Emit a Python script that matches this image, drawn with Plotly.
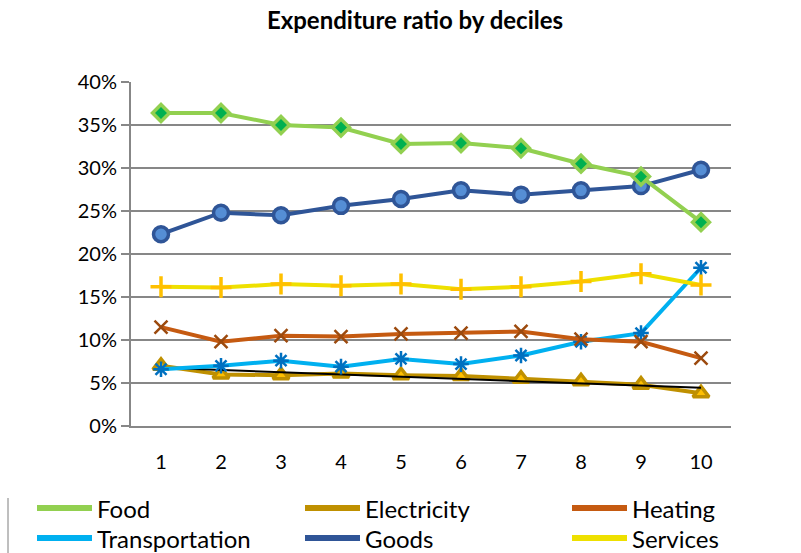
import numpy as np
import plotly.graph_objects as go

# Expenditure shares (%) by income decile
deciles = [1, 2, 3, 4, 5, 6, 7, 8, 9, 10]
tick_labels = ["1", "2", "3", "4", "5", "6", "7", "8", "9", "10"]

food = [36.4, 36.4, 35.0, 34.7, 32.8, 32.9, 32.3, 30.5, 29.0, 23.7]
electricity = [7.0, 6.0, 5.9, 6.1, 5.9, 5.8, 5.5, 5.2, 4.8, 3.8]
heating = [11.5, 9.8, 10.5, 10.4, 10.7, 10.8, 11.0, 10.1, 9.8, 7.9]
transportation = [6.6, 7.0, 7.6, 6.9, 7.8, 7.2, 8.2, 9.8, 10.8, 18.4]
goods = [22.3, 24.8, 24.5, 25.6, 26.4, 27.4, 26.9, 27.4, 27.9, 29.8]
services = [16.2, 16.1, 16.5, 16.3, 16.5, 15.9, 16.2, 16.8, 17.7, 16.4]

series_names = ["Food", "Electricity", "Heating", "Transportation", "Goods", "Services"]
series_values = [food, electricity, heating, transportation, goods, services]

styles = {
    "Food": dict(line="#92D050", symbol="diamond", fill="#00B050", edge="#92D050", size=13, ew=3.5),
    "Electricity": dict(line="#BF9000", symbol="triangle-up", fill="#FFC000", edge="#BF9000", size=14, ew=3.5),
    "Heating": dict(line="#C55A11", symbol="x-thin", fill="#9C4A0E", edge="#9C4A0E", size=13, ew=2.5),
    "Transportation": dict(line="#00B0F0", symbol="asterisk", fill="#0070C0", edge="#0070C0", size=13, ew=2.5),
    "Goods": dict(line="#2F5597", symbol="circle", fill="#558ED5", edge="#2F5597", size=15, ew=3.5),
    "Services": dict(line="#EEE000", symbol="cross-thin", fill="#FFC000", edge="#FFC000", size=15, ew=3.5),
}

fig = go.Figure()

draw_order = ["Electricity", "Transportation", "Heating", "Services", "Goods", "Food"]
for name in draw_order:
    vals = series_values[series_names.index(name)]
    s = styles[name]
    fig.add_trace(go.Scatter(
        x=deciles, y=[v / 100 for v in vals], name=name, mode="lines+markers",
        line=dict(color=s["line"], width=4),
        marker=dict(symbol=s["symbol"], size=s["size"], color=s["fill"],
                    line=dict(color=s["edge"], width=s["ew"])),
        showlegend=False,
    ))
    if name == "Electricity":
        # linear trend of the electricity share
        slope, intercept = np.polyfit(deciles, electricity, 1)
        trend = [(slope * d + intercept) / 100 for d in deciles]
        fig.add_trace(go.Scatter(
            x=[deciles[0], deciles[-1]], y=[trend[0], trend[-1]], mode="lines",
            line=dict(color="black", width=2), showlegend=False, hoverinfo="skip",
        ))

# plot-area geometry in pixels
L, R, T, B = 131, 731, 82, 426
W, H = 801, 553


def px(x):
    return (x - L) / (R - L)


def py(y):
    return (B - y) / (B - T)


font_family = "Lato, 'Open Sans', sans-serif"
legend_cols = [37, 305, 572]
legend_rows = [508, 538]
for i, name in enumerate(series_names):
    x0 = legend_cols[i % 3]
    y0 = legend_rows[i // 3]
    fig.add_shape(type="line", xref="paper", yref="paper",
                  x0=px(x0), x1=px(x0 + 55), y0=py(y0), y1=py(y0),
                  line=dict(color=styles[name]["line"], width=6))
    fig.add_annotation(xref="paper", yref="paper", x=px(x0 + 58), y=py(y0),
                       text=name, showarrow=False, xanchor="left", yanchor="middle",
                       font=dict(size=24, color="black", family=font_family))

# thin frame edge at the lower left
fig.add_shape(type="line", xref="paper", yref="paper",
              x0=px(8), x1=px(8), y0=py(498), y1=py(560),
              line=dict(color="#7F7F7F", width=1))

fig.update_layout(
    width=W, height=H,
    margin=dict(l=L, r=W - R, t=T, b=H - B, pad=0),
    paper_bgcolor="white", plot_bgcolor="white",
    font=dict(family=font_family, color="black"),
    title=dict(text="<b>Expenditure ratio by deciles</b>", x=415 / W, xanchor="center",
               y=1 - 21 / H, yanchor="middle", font=dict(size=24, family=font_family)),
    xaxis=dict(range=[0.5, 10.5], tickmode="array", tickvals=deciles, ticktext=tick_labels,
               showgrid=False, zeroline=False, showline=True, linecolor="#878787", linewidth=2,
               ticks="", tickfont=dict(size=20), ticklabelstandoff=17),
    yaxis=dict(range=[0, 0.40], tickmode="array",
               tickvals=[0, 0.05, 0.10, 0.15, 0.20, 0.25, 0.30, 0.35, 0.40],
               tickformat=".0%", showgrid=True, gridcolor="#878787", gridwidth=2,
               zeroline=False, showline=True, linecolor="#878787", linewidth=2,
               ticks="outside", ticklen=8, tickcolor="#878787", tickwidth=2,
               tickfont=dict(size=20)),
    showlegend=False,
)

fig.write_html("out.html")
